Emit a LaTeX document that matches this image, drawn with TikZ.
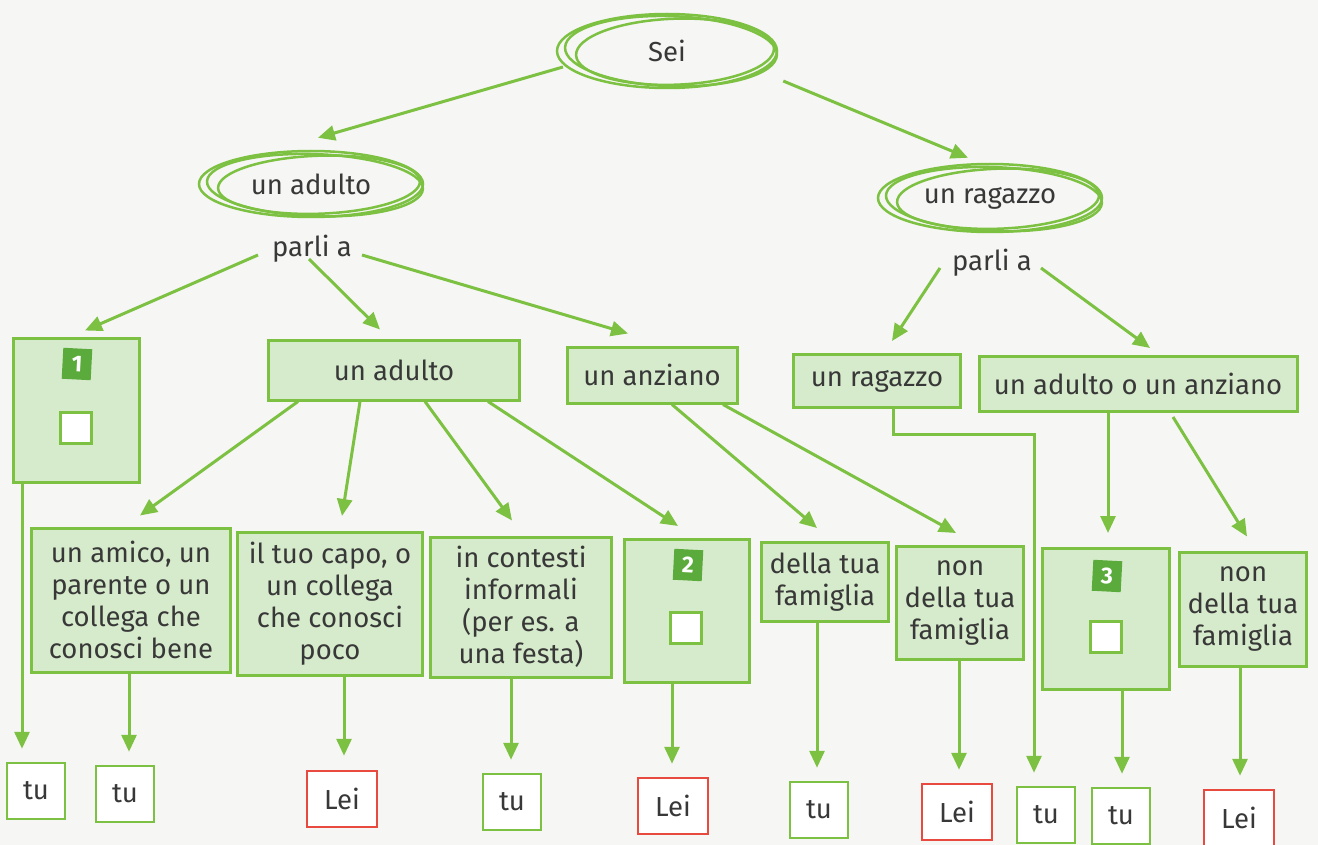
\documentclass[tikz,border=0pt]{standalone}
\usepackage{fontspec}
\setmainfont{Fira Sans}
\usetikzlibrary{arrows.meta,shapes.geometric}

\definecolor{leaf}{HTML}{7DC143}
\definecolor{mint}{HTML}{D6EBCB}
\definecolor{moss}{HTML}{5BAA3C}
\definecolor{ink}{HTML}{383838}
\definecolor{brick}{HTML}{E84A3F}
\definecolor{paper}{HTML}{F6F6F4}

\begin{document}
\begin{tikzpicture}[x=1pt, y=-1pt,
  every node/.style={font=\fontsize{27.5}{32}\selectfont, text=ink},
  arr/.style={draw=leaf, line width=3pt, -{Triangle[length=17pt,width=15pt]}},
  ring/.style={draw=leaf, line width=2.5pt},
  bubble/.style={ellipse, draw=leaf, line width=2.5pt, inner sep=0pt},
  choice/.style={draw=leaf, fill=mint, line width=3pt, align=center, inner sep=0pt},
  badge/.style={fill=moss, text=white, rotate=-3, minimum width=29pt, minimum height=31pt, inner sep=0pt, font=\fontsize{23}{23}\selectfont\bfseries},
  checkbox/.style={draw=leaf, fill=white, line width=2.5pt, minimum size=31pt, inner sep=0pt},
  tu/.style={draw=leaf, fill=white, line width=2.5pt, minimum width=58pt, minimum height=56pt, inner sep=0pt},
  lei/.style={draw=brick, fill=white, line width=2.5pt, minimum width=70pt, minimum height=56pt, inner sep=0pt}]
\fill[paper] (0,0) rectangle (1318,845);
\useasboundingbox (0,0) rectangle (1318,845);

% circled words
\node[bubble, minimum width=220pt, minimum height=74pt] (sei) at (667,51) {Sei};
\draw[ring, rotate around={-2:(sei.center)}] (sei.center) ++(4,0) ellipse [x radius=106pt, y radius=35pt];
\draw[ring, rotate around={2:(sei.center)}] (sei.center) ++(8,1) ellipse [x radius=99pt, y radius=33pt];
\node[bubble, minimum width=224pt, minimum height=66pt] (adultoE) at (311,184) {un adulto};
\draw[ring, rotate around={-2:(adultoE.center)}] (adultoE.center) ++(4,1) ellipse [x radius=108pt, y radius=31pt];
\draw[ring, rotate around={2:(adultoE.center)}] (adultoE.center) ++(8,1) ellipse [x radius=101pt, y radius=29pt];
\node[bubble, minimum width=224pt, minimum height=68pt] (ragazzoE) at (990,198) {un ragazzo};
\draw[ring, rotate around={-2:(ragazzoE.center)}] (ragazzoE.center) ++(4,1) ellipse [x radius=108pt, y radius=32pt];
\draw[ring, rotate around={2:(ragazzoE.center)}] (ragazzoE.center) ++(8,1) ellipse [x radius=101pt, y radius=30pt];
\node (parliA) at (312,249) {parli a};
\node (parliB) at (992,263) {parli a};

% second row
\node[choice, minimum width=126pt, minimum height=144pt] (grpA) at (76,410) {};
\node[badge] (badgeA) at (77,364) {1};
\node[checkbox] (boxA) at (76,428) {};
\node[choice, minimum width=251pt, minimum height=60pt] (adultoB) at (394,370) {un adulto};
\node[choice, minimum width=170pt, minimum height=56pt] (anzianoB) at (652,375) {un anziano};
\node[choice, minimum width=167pt, minimum height=53pt] (ragazzoB) at (877,381) {un ragazzo};
\node[choice, minimum width=318pt, minimum height=55pt] (misto) at (1138,384) {un adulto o un anziano};

% third row
\node[choice, minimum width=199pt, minimum height=144pt] (amico) at (131,600) {un amico, un\\parente o un\\collega che\\conosci bene};
\node[choice, minimum width=185pt, minimum height=143pt] (capo) at (330,604) {il tuo capo, o\\un collega\\che conosci\\poco};
\node[choice, minimum width=181pt, minimum height=140pt] (festa) at (521,607) {in contesti\\informali\\(per es. a\\una festa)};
\node[choice, minimum width=125pt, minimum height=143pt] (grpB) at (687,611) {};
\node[badge] (badgeB) at (688,565) {2};
\node[checkbox] (boxB) at (686,628) {};
\node[choice, minimum width=127pt, minimum height=79pt] (famiglia) at (825,582) {della tua\\famiglia};
\node[choice, minimum width=127pt, minimum height=113pt] (nonfamA) at (960,603) {non\\della tua\\famiglia};
\node[choice, minimum width=127pt, minimum height=141pt] (grpC) at (1106,619) {};
\node[badge] (badgeC) at (1107,576) {3};
\node[checkbox] (boxC) at (1106,637) {};
\node[choice, minimum width=127pt, minimum height=114pt] (nonfamB) at (1243,609) {non\\della tua\\famiglia};

% answers
\node[tu] (tuA) at (36,791) {tu};
\node[tu] (tuB) at (125,794) {tu};
\node[lei] (leiA) at (342,799) {Lei};
\node[tu] (tuC) at (512,802) {tu};
\node[lei] (leiB) at (673,806) {Lei};
\node[tu] (tuD) at (819,810) {tu};
\node[lei] (leiC) at (957,812) {Lei};
\node[tu] (tuE) at (1046,815) {tu};
\node[tu] (tuF) at (1121,816) {tu};
\node[lei] (leiD) at (1239,818) {Lei};

% arrows
\draw[arr] ([shift={(-104,16)}]sei.center) -- ([shift={(7,-12)}]adultoE.north);
\draw[arr] ([shift={(5,30)}]sei.east) -- ([shift={(-22,-5)}]ragazzoE.north);
\draw[arr] ([shift={(-54,6)}]parliA.center) -- ([shift={(9,-6)}]grpA.north);
\draw[arr] ([shift={(-3,10)}]parliA.center) -- ([shift={(-14,-9)}]adultoB.north);
\draw[arr] ([shift={(50,6)}]parliA.center) -- ([shift={(-24,-12)}]anzianoB.north);
\draw[arr] ([shift={(-52,5)}]parliB.center) -- ([shift={(15,-12)}]ragazzoB.north);
\draw[arr] ([shift={(49,5)}]parliB.center) -- ([shift={(12,-7)}]misto.north);
\draw[arr] ([shift={(-96,0)}]adultoB.south) -- ([shift={(9,-11)}]amico.north);
\draw[arr] ([shift={(-34,0)}]adultoB.south) -- ([shift={(12,-15)}]capo.north);
\draw[arr] ([shift={(31,0)}]adultoB.south) -- ([shift={(-9,-15)}]festa.north);
\draw[arr] ([shift={(94,0)}]adultoB.south) -- ([shift={(-9,-12)}]grpB.north);
\draw[arr] ([shift={(20,0)}]anzianoB.south) -- ([shift={(-8,-13)}]famiglia.north);
\draw[arr] ([shift={(71,0)}]anzianoB.south) -- ([shift={(-4,-12)}]nonfamA.north);
\draw[arr] ([shift={(16,0)}]ragazzoB.south) -- ++(0,25) -| ([shift={(-12,-13)}]tuE.north);
\draw[arr] ([shift={(-30,0)}]misto.south) -- ([shift={(2,-14)}]grpC.north);
\draw[arr] ([shift={(35,4)}]misto.south) -- ([shift={(4,-14)}]nonfamB.north);
\draw[arr] ([shift={(-54,0)}]grpA.south) -- ([shift={(-14,-13)}]tuA.north);
\draw[arr] ([shift={(-2,0)}]amico.south) -- ([shift={(4,-13)}]tuB.north);
\draw[arr] ([shift={(14,0)}]capo.south) -- ([shift={(2,-14)}]leiA.north);
\draw[arr] ([shift={(-10,0)}]festa.south) -- ([shift={(-1,-13)}]tuC.north);
\draw[arr] ([shift={(-15,0)}]grpB.south) -- ([shift={(-1,-13)}]leiB.north);
\draw[arr] ([shift={(-8,0)}]famiglia.south) -- ([shift={(-2,-13)}]tuD.north);
\draw[arr] ([shift={(-1,0)}]nonfamA.south) -- ([shift={(2,-13)}]leiC.north);
\draw[arr] ([shift={(16,0)}]grpC.south) -- ([shift={(1,-13)}]tuF.north);
\draw[arr] ([shift={(-3,0)}]nonfamB.south) -- ([shift={(1,-13)}]leiD.north);
\end{tikzpicture}
\end{document}
